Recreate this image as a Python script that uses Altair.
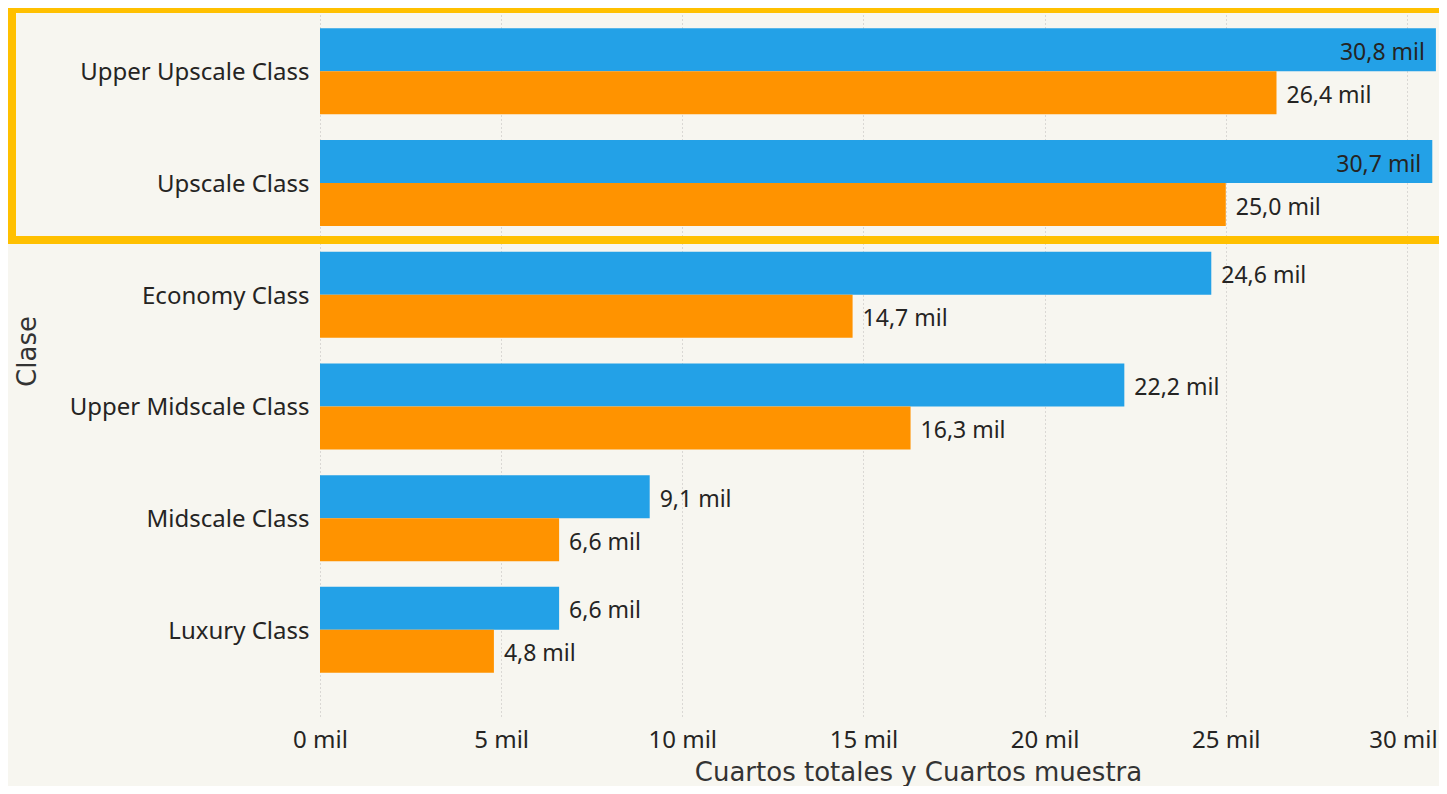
import altair as alt
import pandas as pd

clases = ["Upper Upscale Class", "Upscale Class", "Economy Class",
          "Upper Midscale Class", "Midscale Class", "Luxury Class"]
cuartos_totales = [30800, 30700, 24600, 22200, 9100, 6600]
cuartos_muestra = [26400, 25000, 14700, 16300, 6600, 4800]
series = ["Cuartos totales", "Cuartos muestra"]
x_ticks = [0, 5000, 10000, 15000, 20000, 25000, 30000]

rows = []
for c, t, m in zip(clases, cuartos_totales, cuartos_muestra):
    rows.append({"Clase": c, "Serie": series[0], "Valor": t})
    rows.append({"Clase": c, "Serie": series[1], "Valor": m})
df = pd.DataFrame(rows)

FONT = "Noto Sans"
TFONT = "DejaVu Sans"
TXT = "#252423"
TITLE = "#333333"
BLUE = "#23A1E7"
ORANGE = "#FF9300"
YELLOW = "#FFC000"

y_enc = alt.Y(
    "Clase:N", sort=clases,
    scale=alt.Scale(paddingInner=0.23, paddingOuter=0.284, align=0.32),
    axis=alt.Axis(title="Clase", labelFontSize=24, labelColor=TXT, labelFont=FONT,
                  labelPadding=11, labelLimit=400, labelOffset=2,
                  domain=False, ticks=False,
                  titleFontSize=26, titleColor=TITLE, titleFont=TFONT,
                  titleFontWeight="normal", titleX=-293, titleY=343,
                  titleBaseline="middle"),
)
x_enc = alt.X(
    "Valor:Q",
    scale=alt.Scale(domain=[0, 30830], nice=False, zero=True),
    axis=alt.Axis(values=x_ticks,
                  labelExpr="format(datum.value/1000,'d') + ' mil'",
                  title="Cuartos totales y Cuartos muestra",
                  grid=True, gridDash=[1, 3], gridColor="#BDBBB8", gridWidth=1,
                  domain=False, ticks=False, labelFlush=False, labelBound=False,
                  labelOverlap=False,
                  labelOffset={"condition": {"test": "datum.value == 30000", "value": -4},
                               "value": 0},
                  labelFontSize=24, labelColor=TXT, labelFont=FONT, labelPadding=12,
                  titleFontSize=26, titleColor=TITLE, titleFont=TFONT,
                  titleFontWeight="normal", titleX=598, titleY=64,
                  titleBaseline="alphabetic", titleAlign="center"),
)
yoff = alt.YOffset("Serie:N", sort=series,
                   scale=alt.Scale(paddingInner=0, paddingOuter=0))
color = alt.Color("Serie:N", sort=series,
                  scale=alt.Scale(domain=series, range=[BLUE, ORANGE]), legend=None)

base = alt.Chart(df).transform_calculate(
    etiqueta="replace(format(datum.Valor/1000, '.1f'), '.', ',') + ' mil'"
)

bars = base.mark_bar().encode(y=y_enc, x=x_enc, yOffset=yoff, color=color)

text_out = base.transform_filter("datum.Valor <= 28000").mark_text(
    align="left", baseline="middle", dx=10, dy=3, fontSize=23, font=FONT, color=TXT
).encode(y=alt.Y("Clase:N", sort=clases), x="Valor:Q", yOffset=yoff, text="etiqueta:N")

text_in = base.transform_filter("datum.Valor > 28000").mark_text(
    align="right", baseline="middle", dx=-11, dy=3, fontSize=23, font=FONT, color=TXT
).encode(y=alt.Y("Clase:N", sort=clases), x="Valor:Q", yOffset=yoff, text="etiqueta:N")

one = alt.Data(values=[{"k": 1}])
rule_top = alt.Chart(one).mark_rule(color=YELLOW, strokeWidth=5).encode(
    x=alt.value(-312), x2=alt.value(1127), y=alt.value(2.5))
rule_bottom = alt.Chart(one).mark_rule(color=YELLOW, strokeWidth=8).encode(
    x=alt.value(-312), x2=alt.value(1127), y=alt.value(232))
rule_left = alt.Chart(one).mark_rule(color=YELLOW, strokeWidth=8).encode(
    x=alt.value(-308), y=alt.value(0), y2=alt.value(236))

chart = alt.layer(bars, text_out, text_in, rule_top, rule_bottom, rule_left).properties(
    width=1117, height=708,
    padding={"left": 312, "top": 0, "right": 2, "bottom": 70},
    autosize=alt.AutoSizeParams(type="none"),
).configure(background="#F7F6F0").configure_view(stroke=None)

chart.save("out.html", embed_options={"renderer": "svg", "actions": False})
